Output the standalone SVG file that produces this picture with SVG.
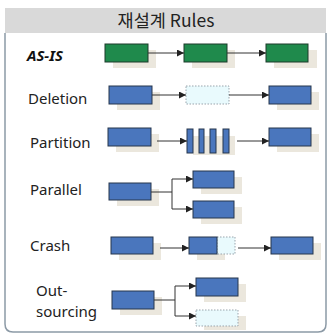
<svg xmlns="http://www.w3.org/2000/svg" width="328" height="334" viewBox="0 0 328 334">
<defs>
<style>
.lbl{font-family:"Noto Sans","Open Sans","Liberation Sans",sans-serif;font-size:15px;fill:#222}
.sh{fill:#ebe7dd}
.g{fill:#1f8a4c;stroke:#1d3b2a;stroke-width:1}
.b{fill:#4a76bd;stroke:#26364d;stroke-width:1}
.d{fill:#e9fafd;stroke:#9aa5ad;stroke-width:1;stroke-dasharray:1.5 1.5}
.c{stroke:#333;stroke-width:1;fill:none}
</style>
<marker id="ah" viewBox="0 0 10 10" refX="10" refY="5" markerWidth="7" markerHeight="7" orient="auto" markerUnits="userSpaceOnUse">
<path d="M0,0 L10,5 L0,10 z" fill="#222"/>
</marker>
</defs>
<rect x="0" y="0" width="328" height="334" fill="#fff"/>
<path d="M5,33 V324 Q5,332 13,332 H318 Q326,332 326,324 V33" fill="#fff" stroke="#8c9aa6" stroke-width="1.5"/>
<rect x="5" y="8" width="321" height="25" fill="#d9d9d9"/>
<text x="166" y="27" text-anchor="middle" style="font-family:'Noto Sans CJK KR','Noto Sans',sans-serif;font-size:17.5px;fill:#222">재설계 Rules</text>

<g id="labels">
<text x="27" y="61" style="font-family:'Noto Sans','Liberation Sans',sans-serif;font-size:15px;font-weight:bold;font-style:italic;fill:#111">AS-IS</text>
<text class="lbl" x="28" y="104">Deletion</text>
<text class="lbl" x="30" y="148">Partition</text>
<text class="lbl" x="30" y="195">Parallel</text>
<text class="lbl" x="30" y="251">Crash</text>
<text class="lbl" x="36" y="296">Out-</text>
<text class="lbl" x="36" y="317">sourcing</text>
</g>

<g id="asis">
<rect class="sh" x="113" y="50" width="43" height="18"/>
<rect class="g" x="105" y="44" width="43" height="18"/>
<rect class="sh" x="192" y="50" width="43" height="18"/>
<rect class="g" x="184" y="44" width="43" height="18"/>
<rect class="sh" x="274" y="50" width="43" height="18"/>
<rect class="g" x="266" y="44" width="42" height="18"/>
</g>

<g id="deletion">
<rect class="sh" x="117" y="92" width="43" height="18"/>
<rect class="b" x="109" y="86" width="43" height="18"/>
<rect class="d" x="186" y="86" width="43" height="18"/>
<rect class="sh" x="277" y="92" width="42" height="18"/>
<rect class="b" x="269" y="86" width="42" height="18"/>
</g>

<g id="partition">
<rect class="sh" x="116" y="134" width="43" height="18"/>
<rect class="b" x="108" y="128" width="43" height="18"/>
<rect class="sh" x="193" y="136" width="42" height="19"/>
<rect class="b" x="187" y="129" width="6" height="24"/>
<rect class="b" x="199" y="129" width="5" height="24"/>
<rect class="b" x="210" y="129" width="6" height="24"/>
<rect class="b" x="223" y="129" width="6" height="24"/>
<rect class="sh" x="277" y="134" width="42" height="18"/>
<rect class="b" x="269" y="128" width="42" height="18"/>
</g>

<g id="parallel">
<rect class="sh" x="117" y="189" width="42" height="17"/>
<rect class="b" x="109" y="183" width="42" height="17"/>
<rect class="sh" x="201" y="177" width="41" height="17"/>
<rect class="b" x="193" y="171" width="41" height="17"/>
<rect class="sh" x="201" y="207" width="41" height="17"/>
<rect class="b" x="193" y="201" width="41" height="17"/>
</g>

<g id="crash">
<rect class="sh" x="119" y="243" width="42" height="17"/>
<rect class="b" x="111" y="237" width="42" height="17"/>
<rect class="sh" x="197" y="243" width="28" height="17"/>
<rect class="d" x="217" y="237" width="18" height="17"/>
<rect class="b" x="189" y="237" width="28" height="17"/>
<rect class="sh" x="279" y="243" width="42" height="17"/>
<rect class="b" x="271" y="237" width="42" height="17"/>
</g>

<g id="outsourcing">
<rect class="sh" x="120" y="297" width="42" height="18"/>
<rect class="b" x="112" y="291" width="42" height="18"/>
<rect class="sh" x="204" y="284" width="42" height="18"/>
<rect class="b" x="196" y="278" width="42" height="18"/>
<rect class="sh" x="204" y="316" width="42" height="14"/>
<rect class="d" x="196" y="310" width="42" height="16"/>
</g>

<g id="connectors">
<line class="c" x1="148" y1="53" x2="184" y2="53" marker-end="url(#ah)"/>
<line class="c" x1="227" y1="53" x2="266" y2="53" marker-end="url(#ah)"/>
<line class="c" x1="152" y1="95" x2="186" y2="95" marker-end="url(#ah)"/>
<line class="c" x1="229" y1="95" x2="269" y2="95" marker-end="url(#ah)"/>
<line class="c" x1="157" y1="141" x2="187" y2="141" marker-end="url(#ah)"/>
<line class="c" x1="237" y1="141" x2="269" y2="141" marker-end="url(#ah)"/>
<path class="c" d="M151,192 H172"/>
<path class="c" d="M172,179 V209"/>
<line class="c" x1="172" y1="179" x2="193" y2="179" marker-end="url(#ah)"/>
<line class="c" x1="172" y1="209" x2="193" y2="209" marker-end="url(#ah)"/>
<line class="c" x1="160" y1="248" x2="189" y2="248" marker-end="url(#ah)"/>
<line class="c" x1="238" y1="248" x2="271" y2="248" marker-end="url(#ah)"/>
<path class="c" d="M154,300 H175"/>
<path class="c" d="M175,286 V316"/>
<line class="c" x1="175" y1="286" x2="196" y2="286" marker-end="url(#ah)"/>
<line class="c" x1="175" y1="316" x2="196" y2="316" marker-end="url(#ah)"/>
</g>
</svg>
